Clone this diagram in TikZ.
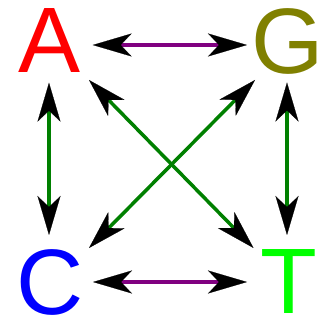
\documentclass[tikz,border=0pt]{standalone}
\usepackage{fontspec}
\setmainfont{Liberation Sans}
\usetikzlibrary{arrows.meta}
\definecolor{olive}{RGB}{128,128,0}
\definecolor{lime}{RGB}{0,255,0}
\definecolor{dgreen}{RGB}{0,128,0}
\definecolor{purp}{RGB}{128,0,128}
\tikzset{
  letter/.style={font=\fontsize{93}{93}\selectfont, inner sep=0pt, outer sep=0pt},
  pl/.style={draw=purp, line width=3.5pt, {Stealth[length=39pt,width=23pt,inset=11pt,black,line width=0.2pt]}-{Stealth[length=39pt,width=23pt,inset=11pt,black,line width=0.2pt]}},
  gl/.style={draw=dgreen, line width=3.5pt, {Stealth[length=39pt,width=23pt,inset=11pt,black,line width=0.2pt]}-{Stealth[length=39pt,width=23pt,inset=11pt,black,line width=0.2pt]}}
}
\begin{document}
\begin{tikzpicture}[x=1pt,y=-1pt]
\useasboundingbox (0,0) rectangle (322,320);
\node[letter, text=red] (A) at (50,41) {A};
\node[letter, text=olive] (G) at (288,41) {G};
\node[letter, text=blue] (C) at (50,282) {C};
\node[letter, text=lime] (T) at (289,282) {T};
\draw[pl] ([shift={(42.7,4)}]A.center) -- ([shift={(-41,4)}]G.center);
\draw[pl] ([shift={(43,0)}]C.center) -- ([shift={(-42,0)}]T.center);
\draw[gl] ([shift={(-1,41.7)}]A.center) -- ([shift={(-1,-47)}]C.center);
\draw[gl] ([shift={(-1,41.5)}]G.center) -- ([shift={(-2,-47)}]T.center);
\draw[gl] ([shift={(39,39)}]A.center) -- ([shift={(-35.5,-34)}]T.center);
\draw[gl] ([shift={(-33,39)}]G.center) -- ([shift={(39,-34)}]C.center);
\end{tikzpicture}
\end{document}
